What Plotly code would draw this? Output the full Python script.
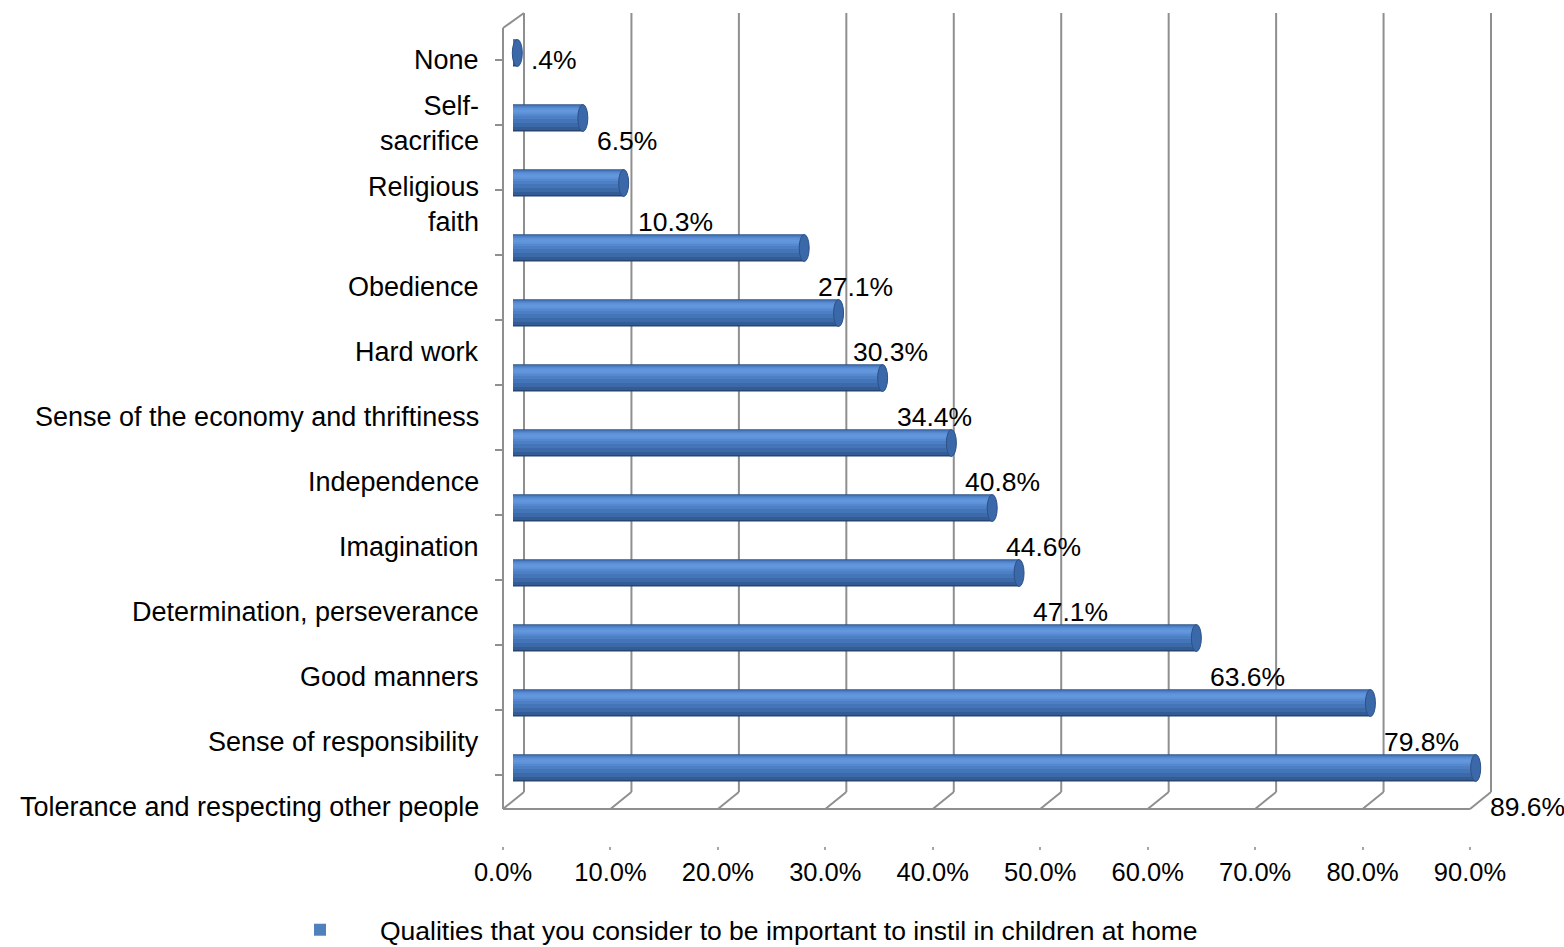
import plotly.graph_objects as go

# ---------------- data ----------------
categories = [
    "None",
    "Self-<br>sacrifice",
    "Religious<br>faith",
    "Obedience",
    "Hard work",
    "Sense of the economy and thriftiness",
    "Independence",
    "Imagination",
    "Determination, perseverance",
    "Good manners",
    "Sense of responsibility",
    "Tolerance and respecting other people",
]
values = [0.4, 6.5, 10.3, 27.1, 30.3, 34.4, 40.8, 44.6, 47.1, 63.6, 79.8, 89.6]
tick_vals = [0, 10, 20, 30, 40, 50, 60, 70, 80, 90]
tick_text = [f"{t:.1f}%" for t in tick_vals]
series_name = "Qualities that you consider to be important to instil in children at home"

# ---------------- layout constants ----------------
W, H = 1564, 947
FONT = "Liberation Sans, Arial, sans-serif"
GRID_COLOR = "#8f8f8f"

X_BAR0 = 513             # pixel of 0 on the bar axis
PPU = 967 / 90           # pixels per percent
BAR_Y0 = 53              # pixel centre of first bar
BAR_STEP = 65            # pixels between bars
BAR_THICK = 27
LABEL_DROP = 39          # labels sit this many px below their bar
LINE_H = 35              # multi-line label line spacing (px)
MIN_GAP = 46             # minimum distance between neighbouring label lines
LABEL_RIGHT = 481
BACK_OFF, FRONT_OFF = 11, -10
Y_TOP_BACK, Y_TOP_FRONT = 13, 28
Y_FLOOR_BACK, Y_FLOOR_FRONT = 792, 809


def fx(px):
    return px / W


def fy(py):
    return 1 - py / H


positions = list(range(len(categories)))


def fmt(v):
    s = f"{v:.1f}%"
    return s[1:] if s.startswith("0.") else s


# label placement (Excel-like: last line below its bar, pushed up to avoid overlap)
n_lines = [c.count("<br>") + 1 for c in categories]
label_drop = [0.0] * len(categories)
next_top = None
for i in reversed(positions):
    bar_px = BAR_Y0 + BAR_STEP * i
    last = bar_px + LABEL_DROP
    if next_top is not None:
        last = min(last, next_top - MIN_GAP)
    label_drop[i] = last - bar_px
    next_top = last - (n_lines[i] - 1) * LINE_H

fig = go.Figure()

# cylinder shading bands (top px, bottom px relative to bar centre, colour)
bands = [
    (-13.5, 13.5, "#27466f"),
    (-13.5, 12.0, "#335c97"),
    (-13.0, 9.0, "#3c69a8"),
    (-12.5, 5.0, "#4575b9"),
    (-12.0, 1.0, "#4d7fc4"),
    (-11.0, -2.0, "#5588cf"),
    (-10.0, -4.0, "#5c90d7"),
    (-8.5, -5.5, "#6297dd"),
]
for a, b, c in bands:
    fig.add_trace(go.Bar(
        x=values, y=positions, orientation="h",
        width=(b - a) / BAR_STEP, offset=a / BAR_STEP,
        marker=dict(color=c, line=dict(width=0)),
        name=series_name, showlegend=False,
        hoverinfo="skip",
        xaxis="x", yaxis="y",
    ))

# legend entry
fig.add_trace(go.Bar(
    x=values, y=positions, orientation="h", width=0.0001,
    marker=dict(color="#4f81bd", line=dict(width=0)),
    name=series_name, showlegend=True, hoverinfo="skip",
    xaxis="x", yaxis="y",
))

# invisible trace carrying the category axis (boundary ticks on the left wall)
fig.add_trace(go.Scatter(
    x=values, y=categories, xaxis="x2", yaxis="y2", mode="markers",
    marker=dict(opacity=0, size=1), showlegend=False, hoverinfo="skip",
))

shapes = []
line_style = dict(color=GRID_COLOR, width=2)
for t in tick_vals:
    shapes.append(dict(type="line", layer="below", xref="x", xsizemode="pixel", xanchor=t,
                       x0=BACK_OFF, x1=BACK_OFF, yref="paper",
                       y0=fy(Y_TOP_BACK), y1=fy(Y_FLOOR_BACK), line=line_style))
    shapes.append(dict(type="line", layer="below", xref="x", xsizemode="pixel", xanchor=t,
                       x0=BACK_OFF, x1=FRONT_OFF, yref="paper",
                       y0=fy(Y_FLOOR_BACK), y1=fy(Y_FLOOR_FRONT), line=line_style))
shapes.append(dict(type="line", layer="below", xref="x", xsizemode="pixel", xanchor=tick_vals[0],
                   x0=FRONT_OFF, x1=FRONT_OFF, yref="paper",
                   y0=fy(Y_TOP_FRONT), y1=fy(Y_FLOOR_FRONT), line=line_style))
shapes.append(dict(type="line", layer="below", xref="x", xsizemode="pixel", xanchor=tick_vals[0],
                   x0=FRONT_OFF, x1=BACK_OFF, yref="paper",
                   y0=fy(Y_TOP_FRONT), y1=fy(Y_TOP_BACK), line=line_style))
shapes.append(dict(type="line", layer="below", xref="x2", x0=tick_vals[0], x1=tick_vals[-1],
                   yref="paper", y0=fy(Y_FLOOR_FRONT), y1=fy(Y_FLOOR_FRONT), line=line_style))

# cylinder end caps
for p, v in zip(positions, values):
    shapes.append(dict(type="circle", xref="x", xsizemode="pixel", xanchor=v, x0=-5, x1=5,
                       yref="y", ysizemode="pixel", yanchor=p,
                       y0=-BAR_THICK / 2, y1=BAR_THICK / 2,
                       fillcolor="#3b68a8", line=dict(color="#2d5189", width=1)))

annotations = []
for p, v, cat in zip(positions, values, categories):
    drop = label_drop[p]
    annotations.append(dict(x=v, y=p, xref="x", yref="y", text=fmt(v), showarrow=False,
                            xanchor="left", yanchor="middle", xshift=12, yshift=-drop,
                            font=dict(family=FONT, size=26.5, color="#000000")))
    annotations.append(dict(x=fx(LABEL_RIGHT), y=p, xref="paper", yref="y", text=cat,
                            showarrow=False, xanchor="right", yanchor="middle", align="right",
                            yshift=-drop + (n_lines[p] - 1) * LINE_H / 2,
                            font=dict(family=FONT, size=27, color="#000000")))

band_top = BAR_Y0 + LABEL_DROP - BAR_STEP / 2
band_bot = BAR_Y0 + LABEL_DROP + BAR_STEP * (len(categories) - 0.5)

fig.update_layout(
    width=W, height=H, autosize=False,
    margin=dict(l=0, r=0, t=0, b=0, autoexpand=False),
    paper_bgcolor="white", plot_bgcolor="rgba(0,0,0,0)",
    barmode="overlay",
    font=dict(family=FONT, size=26, color="#000000"),
    shapes=shapes, annotations=annotations,
    xaxis=dict(domain=[0, 1], range=[-X_BAR0 / PPU, (W - X_BAR0) / PPU], visible=False,
               anchor="y"),
    yaxis=dict(domain=[0, 1], range=[(H - BAR_Y0) / BAR_STEP, -BAR_Y0 / BAR_STEP],
               visible=False, anchor="x"),
    xaxis2=dict(domain=[0, 1], range=[-(X_BAR0 + FRONT_OFF) / PPU, (W - X_BAR0 - FRONT_OFF) / PPU],
                anchor="free", position=fy(846), side="bottom",
                tickvals=tick_vals, ticktext=tick_text, ticks="outside", ticklen=3,
                tickwidth=2, tickcolor="#a6a6a6", ticklabelstandoff=0,
                showline=False, showgrid=False,
                zeroline=False, tickfont=dict(family=FONT, size=25.5, color="#000000")),
    yaxis2=dict(domain=[fy(band_bot), fy(band_top)], type="category", categoryorder="array",
                categoryarray=categories, range=[len(categories) - 0.5, -0.5],
                anchor="free", position=fx(X_BAR0 + FRONT_OFF), side="left",
                ticks="outside", ticklen=8, tickwidth=2, tickcolor=GRID_COLOR,
                tickson="boundaries", showticklabels=False,
                showline=False, showgrid=False, zeroline=False),
    legend=dict(orientation="h", x=fx(260), y=fy(930), xanchor="left", yanchor="middle",
                xref="container", yref="container",
                itemwidth=110, bgcolor="rgba(0,0,0,0)",
                font=dict(family=FONT, size=26.5, color="#000000")),
)

fig.write_html("out.html")
